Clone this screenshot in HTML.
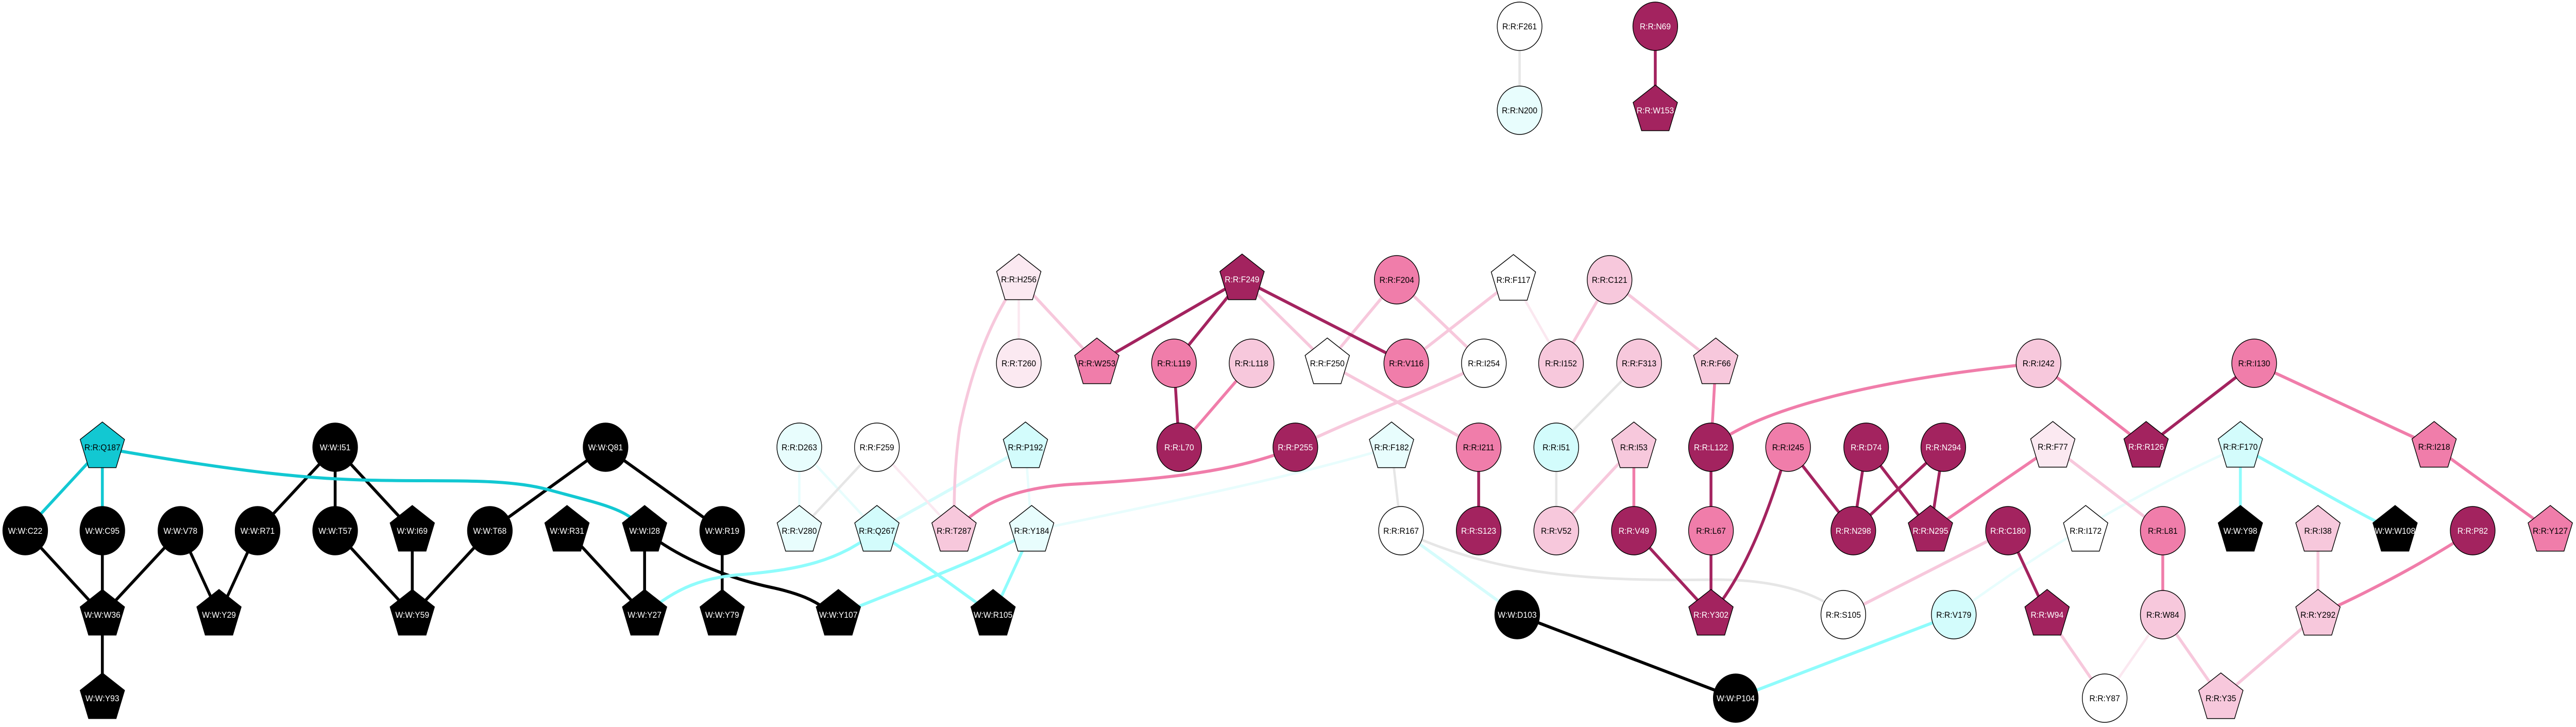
<!DOCTYPE html>
<html><head><meta charset="utf-8"><style>
html,body{margin:0;padding:0;background:#fff;width:100%;height:100%;overflow:hidden;}
svg{display:block;width:100vw;height:100vh;}
text{font-family:"Liberation Sans",Arial,sans-serif;font-size:17px;text-anchor:middle;}
.w{fill:#fff}.b{fill:#000}
</style></head><body>
<svg viewBox="0 0 5411 1411" preserveAspectRatio="none" xmlns="http://www.w3.org/2000/svg">
<g fill="none" stroke-width="6" stroke-linecap="butt">
<g stroke="#000">
<line x1="53" y1="1030" x2="215" y2="1193"/>
<line x1="215" y1="1030" x2="215" y2="1193"/>
<line x1="379" y1="1030" x2="215" y2="1193"/>
<line x1="379" y1="1030" x2="460" y2="1193"/>
<line x1="541" y1="1030" x2="460" y2="1193"/>
<line x1="704" y1="868" x2="541" y2="1030"/>
<line x1="704" y1="868" x2="704" y2="1030"/>
<line x1="704" y1="868" x2="866" y2="1030"/>
<line x1="704" y1="1030" x2="866" y2="1193"/>
<line x1="866" y1="1030" x2="866" y2="1193"/>
<line x1="1029" y1="1030" x2="866" y2="1193"/>
<line x1="1272" y1="868" x2="1029" y2="1030"/>
<line x1="1272" y1="868" x2="1517" y2="1030"/>
<line x1="1191" y1="1030" x2="1354" y2="1193"/>
<line x1="1354" y1="1030" x2="1354" y2="1193"/>
<line x1="215" y1="1193" x2="215" y2="1355"/>
<line x1="1517" y1="1030" x2="1517" y2="1193"/>
<path d="M1354,1030 C1420,1080 1520,1120 1620,1140 S1720,1180 1761,1193"/>
<line x1="3187" y1="1193" x2="3646" y2="1355"/>
</g>
<g stroke="#12c8d2">
<line x1="215" y1="868" x2="53" y2="1030"/>
<line x1="215" y1="868" x2="215" y2="1030"/>
<path d="M250,875 C500,915 650,930 780,932 C950,935 1060,928 1150,950 C1250,975 1300,985 1330,1008"/>
</g>
<g stroke="#8ffcfc">
<path d="M1354,1193 C1420,1140 1480,1120 1560,1115 C1680,1105 1760,1090 1842,1030"/>
<path d="M1761,1193 C1900,1140 2080,1080 2167,1030"/>
<line x1="1842" y1="1030" x2="2086" y2="1193"/>
<line x1="2167" y1="1030" x2="2086" y2="1193"/>
<line x1="3646" y1="1355" x2="4104" y2="1193"/>
<line x1="4706" y1="867" x2="4706" y2="1030"/>
<path d="M4706,867 C4850,940 4960,1000 5031,1030"/>
</g>
<g stroke="#d5fcfc">
<line x1="2154" y1="868" x2="1842" y2="1030"/>
<line x1="2943" y1="1030" x2="3187" y2="1193"/>
</g>
<g stroke="#e8fdfd" stroke-width="5">
<line x1="1679" y1="868" x2="1679" y2="1030"/>
<line x1="1679" y1="868" x2="1842" y2="1030"/>
<line x1="2154" y1="868" x2="2167" y2="1030"/>
<path d="M2167,1030 C2400,985 2700,930 2923,868"/>
<path d="M4104,1193 C4300,1060 4500,950 4706,867"/>
</g>
<g stroke="#e6e6e6" stroke-width="5">
<line x1="1842" y1="868" x2="1679" y2="1030"/>
<line x1="3192" y1="51" x2="3192" y2="214"/>
<line x1="2923" y1="868" x2="2943" y2="1030"/>
<line x1="3443" y1="705" x2="3269" y2="868"/>
<line x1="3269" y1="868" x2="3269" y2="1030"/>
<path d="M2943,1030 C3150,1120 3350,1128 3600,1125 C3750,1124 3830,1160 3872,1193"/>
</g>
<g stroke="#fbe8f0" stroke-width="5">
<line x1="1842" y1="868" x2="2004" y2="1030"/>
<line x1="2140" y1="542" x2="2140" y2="705"/>
<line x1="3179" y1="543" x2="3279" y2="705"/>
<line x1="4543" y1="1193" x2="4421" y2="1355"/>
</g>
<g stroke="#f7c8dc">
<path d="M2140,542 C2080,620 2040,720 2016,830 C2005,900 2004,960 2004,1030"/>
<line x1="2140" y1="542" x2="2304" y2="705"/>
<line x1="2609" y1="542" x2="2788" y2="705"/>
<line x1="2934" y1="543" x2="2788" y2="705"/>
<line x1="2934" y1="543" x2="3117" y2="705"/>
<line x1="3179" y1="543" x2="2954" y2="705"/>
<line x1="3381" y1="543" x2="3279" y2="705"/>
<line x1="3381" y1="543" x2="3604" y2="705"/>
<line x1="2788" y1="705" x2="3106" y2="868"/>
<path d="M3117,705 C3000,760 2850,810 2721,868"/>
<line x1="3432" y1="868" x2="3269" y2="1030"/>
<line x1="3872" y1="1193" x2="4218" y2="1030"/>
<line x1="4312" y1="867" x2="4543" y2="1030"/>
<line x1="4300" y1="1193" x2="4421" y2="1355"/>
<line x1="4543" y1="1193" x2="4665" y2="1355"/>
<line x1="4869" y1="1030" x2="4869" y2="1193"/>
<line x1="4869" y1="1193" x2="4665" y2="1355"/>
</g>
<g stroke="#f07daa">
<line x1="2629" y1="705" x2="2477" y2="868"/>
<path d="M2721,868 C2600,915 2450,930 2250,940 C2120,948 2060,980 2004,1030"/>
<line x1="3432" y1="868" x2="3432" y2="1030"/>
<line x1="3604" y1="705" x2="3594" y2="868"/>
<path d="M3594,868 C3700,790 3950,735 4282,705"/>
<line x1="4055" y1="1030" x2="4312" y2="867"/>
<line x1="4282" y1="705" x2="4508" y2="867"/>
<line x1="4735" y1="705" x2="5113" y2="867"/>
<line x1="5113" y1="867" x2="5357" y2="1030"/>
<line x1="4543" y1="1030" x2="4543" y2="1193"/>
<path d="M5194,1030 C5080,1100 4950,1160 4869,1193"/>
</g>
<g stroke="#a3235f">
<line x1="2609" y1="542" x2="2304" y2="705"/>
<line x1="2609" y1="542" x2="2466" y2="705"/>
<line x1="2609" y1="542" x2="2954" y2="705"/>
<line x1="2466" y1="705" x2="2477" y2="868"/>
<line x1="3477" y1="51" x2="3477" y2="214"/>
<line x1="3106" y1="868" x2="3106" y2="1030"/>
<line x1="3594" y1="868" x2="3594" y2="1030"/>
<line x1="3594" y1="1030" x2="3594" y2="1193"/>
<line x1="3432" y1="1030" x2="3594" y2="1193"/>
<path d="M3756,868 C3720,980 3670,1110 3594,1193"/>
<line x1="3756" y1="868" x2="3893" y2="1030"/>
<line x1="3920" y1="868" x2="3893" y2="1030"/>
<line x1="3920" y1="868" x2="4055" y2="1030"/>
<line x1="4082" y1="868" x2="3893" y2="1030"/>
<line x1="4082" y1="868" x2="4055" y2="1030"/>
<line x1="4735" y1="705" x2="4508" y2="867"/>
<line x1="4218" y1="1030" x2="4300" y2="1193"/>
</g>
</g>

<g stroke="#000" stroke-width="1.5">
<g class="b">
<circle cx="53" cy="1030" r="47"/><circle cx="215" cy="1030" r="47"/><circle cx="379" cy="1030" r="47"/>
<circle cx="541" cy="1030" r="47"/><circle cx="704" cy="1030" r="47"/><circle cx="1029" cy="1030" r="47"/>
<circle cx="704" cy="868" r="47"/><circle cx="1272" cy="868" r="47"/><circle cx="1517" cy="1030" r="47"/>
<circle cx="3187" cy="1193" r="47"/><circle cx="3646" cy="1355" r="47"/>
<polygon transform="translate(866,1030)" points="0,-49 46.6,-15.1 28.8,39.6 -28.8,39.6 -46.6,-15.1"/>
<polygon transform="translate(1191,1030)" points="0,-49 46.6,-15.1 28.8,39.6 -28.8,39.6 -46.6,-15.1"/>
<polygon transform="translate(1354,1030)" points="0,-49 46.6,-15.1 28.8,39.6 -28.8,39.6 -46.6,-15.1"/>
<polygon transform="translate(215,1193)" points="0,-49 46.6,-15.1 28.8,39.6 -28.8,39.6 -46.6,-15.1"/>
<polygon transform="translate(460,1193)" points="0,-49 46.6,-15.1 28.8,39.6 -28.8,39.6 -46.6,-15.1"/>
<polygon transform="translate(866,1193)" points="0,-49 46.6,-15.1 28.8,39.6 -28.8,39.6 -46.6,-15.1"/>
<polygon transform="translate(1354,1193)" points="0,-49 46.6,-15.1 28.8,39.6 -28.8,39.6 -46.6,-15.1"/>
<polygon transform="translate(215,1355)" points="0,-49 46.6,-15.1 28.8,39.6 -28.8,39.6 -46.6,-15.1"/>
<polygon transform="translate(1517,1193)" points="0,-49 46.6,-15.1 28.8,39.6 -28.8,39.6 -46.6,-15.1"/>
<polygon transform="translate(1761,1193)" points="0,-49 46.6,-15.1 28.8,39.6 -28.8,39.6 -46.6,-15.1"/>
<polygon transform="translate(2086,1193)" points="0,-49 46.6,-15.1 28.8,39.6 -28.8,39.6 -46.6,-15.1"/>
<polygon transform="translate(4706,1030)" points="0,-49 46.6,-15.1 28.8,39.6 -28.8,39.6 -46.6,-15.1"/>
<polygon transform="translate(5031,1030)" points="0,-49 46.6,-15.1 28.8,39.6 -28.8,39.6 -46.6,-15.1"/>
</g>
<polygon fill="#12c8d2" transform="translate(215,868)" points="0,-49 46.6,-15.1 28.8,39.6 -28.8,39.6 -46.6,-15.1"/>
<g fill="#a3235f">
<polygon transform="translate(2609,542)" points="0,-49 46.6,-15.1 28.8,39.6 -28.8,39.6 -46.6,-15.1"/>
<circle cx="2477" cy="868" r="47"/><circle cx="2721" cy="868" r="47"/><circle cx="3477" cy="51" r="47"/>
<polygon transform="translate(3477,214)" points="0,-49 46.6,-15.1 28.8,39.6 -28.8,39.6 -46.6,-15.1"/>
<circle cx="3594" cy="868" r="47"/><circle cx="3920" cy="868" r="47"/><circle cx="4082" cy="868" r="47"/>
<circle cx="3106" cy="1030" r="47"/><circle cx="3432" cy="1030" r="47"/><circle cx="3893" cy="1030" r="47"/>
<polygon transform="translate(4055,1030)" points="0,-49 46.6,-15.1 28.8,39.6 -28.8,39.6 -46.6,-15.1"/>
<polygon transform="translate(3594,1193)" points="0,-49 46.6,-15.1 28.8,39.6 -28.8,39.6 -46.6,-15.1"/>
<polygon transform="translate(4508,867)" points="0,-49 46.6,-15.1 28.8,39.6 -28.8,39.6 -46.6,-15.1"/>
<circle cx="4218" cy="1030" r="47"/><circle cx="5194" cy="1030" r="47"/>
<polygon transform="translate(4300,1193)" points="0,-49 46.6,-15.1 28.8,39.6 -28.8,39.6 -46.6,-15.1"/>
</g>
<g fill="#f07daa">
<polygon transform="translate(2304,705)" points="0,-49 46.6,-15.1 28.8,39.6 -28.8,39.6 -46.6,-15.1"/>
<circle cx="2466" cy="705" r="47"/><circle cx="2934" cy="543" r="47"/><circle cx="2954" cy="705" r="47"/>
<circle cx="3106" cy="868" r="47"/><circle cx="3756" cy="868" r="47"/><circle cx="3594" cy="1030" r="47"/>
<circle cx="4735" cy="705" r="47"/><circle cx="4543" cy="1030" r="47"/>
<polygon transform="translate(5113,867)" points="0,-49 46.6,-15.1 28.8,39.6 -28.8,39.6 -46.6,-15.1"/>
<polygon transform="translate(5357,1030)" points="0,-49 46.6,-15.1 28.8,39.6 -28.8,39.6 -46.6,-15.1"/>
</g>
<g fill="#f7c8dc">
<polygon transform="translate(2004,1030)" points="0,-49 46.6,-15.1 28.8,39.6 -28.8,39.6 -46.6,-15.1"/>
<circle cx="2629" cy="705" r="47"/><circle cx="3381" cy="543" r="47"/><circle cx="3279" cy="705" r="47"/>
<circle cx="3443" cy="705" r="47"/><circle cx="3269" cy="1030" r="47"/><circle cx="4282" cy="705" r="47"/>
<circle cx="4543" cy="1193" r="47"/>
<polygon transform="translate(3604,705)" points="0,-49 46.6,-15.1 28.8,39.6 -28.8,39.6 -46.6,-15.1"/>
<polygon transform="translate(3432,868)" points="0,-49 46.6,-15.1 28.8,39.6 -28.8,39.6 -46.6,-15.1"/>
<polygon transform="translate(4869,1030)" points="0,-49 46.6,-15.1 28.8,39.6 -28.8,39.6 -46.6,-15.1"/>
<polygon transform="translate(4869,1193)" points="0,-49 46.6,-15.1 28.8,39.6 -28.8,39.6 -46.6,-15.1"/>
<polygon transform="translate(4665,1355)" points="0,-49 46.6,-15.1 28.8,39.6 -28.8,39.6 -46.6,-15.1"/>
</g>
<g fill="#fbe9f1">
<polygon transform="translate(2140,542)" points="0,-49 46.6,-15.1 28.8,39.6 -28.8,39.6 -46.6,-15.1"/>
<circle cx="2140" cy="705" r="47"/>
<polygon transform="translate(4312,867)" points="0,-49 46.6,-15.1 28.8,39.6 -28.8,39.6 -46.6,-15.1"/>
</g>
<g fill="#d3fcfc">
<polygon transform="translate(2154,868)" points="0,-49 46.6,-15.1 28.8,39.6 -28.8,39.6 -46.6,-15.1"/>
<polygon transform="translate(1842,1030)" points="0,-49 46.6,-15.1 28.8,39.6 -28.8,39.6 -46.6,-15.1"/>
<polygon transform="translate(4706,867)" points="0,-49 46.6,-15.1 28.8,39.6 -28.8,39.6 -46.6,-15.1"/>
<circle cx="3269" cy="868" r="47"/><circle cx="4104" cy="1193" r="47"/>
</g>
<g fill="#e8fdfd">
<circle cx="1679" cy="868" r="47"/><circle cx="3192" cy="214" r="47"/>
<polygon transform="translate(1679,1030)" points="0,-49 46.6,-15.1 28.8,39.6 -28.8,39.6 -46.6,-15.1"/>
<polygon transform="translate(2167,1030)" points="0,-49 46.6,-15.1 28.8,39.6 -28.8,39.6 -46.6,-15.1"/>
<polygon transform="translate(2923,868)" points="0,-49 46.6,-15.1 28.8,39.6 -28.8,39.6 -46.6,-15.1"/>
</g>
<g fill="#fff">
<circle cx="1842" cy="868" r="47"/><circle cx="3192" cy="51" r="47"/><circle cx="3117" cy="705" r="47"/>
<circle cx="2943" cy="1030" r="47"/><circle cx="3872" cy="1193" r="47"/><circle cx="4421" cy="1355" r="47"/>
<polygon transform="translate(2788,705)" points="0,-49 46.6,-15.1 28.8,39.6 -28.8,39.6 -46.6,-15.1"/>
<polygon transform="translate(3179,543)" points="0,-49 46.6,-15.1 28.8,39.6 -28.8,39.6 -46.6,-15.1"/>
<polygon transform="translate(4381,1030)" points="0,-49 46.6,-15.1 28.8,39.6 -28.8,39.6 -46.6,-15.1"/>
</g>
</g>

<g class="w">
<text x="53" y="1036">W:W:C22</text><text x="215" y="1036">W:W:C95</text><text x="379" y="1036">W:W:V78</text>
<text x="541" y="1036">W:W:R71</text><text x="704" y="1036">W:W:T57</text><text x="866" y="1036">W:W:I69</text>
<text x="1029" y="1036">W:W:T68</text><text x="1191" y="1036">W:W:R31</text><text x="1354" y="1036">W:W:I28</text>
<text x="704" y="874">W:W:I51</text><text x="1272" y="874">W:W:Q81</text><text x="1517" y="1036">W:W:R19</text>
<text x="215" y="1199">W:W:W36</text><text x="460" y="1199">W:W:Y29</text><text x="866" y="1199">W:W:Y59</text>
<text x="1354" y="1199">W:W:Y27</text><text x="215" y="1361">W:W:Y93</text><text x="1517" y="1199">W:W:Y79</text>
<text x="1761" y="1199">W:W:Y107</text><text x="2086" y="1199">W:W:R105</text>
<text x="3187" y="1199">W:W:D103</text><text x="3646" y="1361">W:W:P104</text>
<text x="4706" y="1036">W:W:Y98</text><text x="5031" y="1036">W:W:W108</text>
<text x="2609" y="548">R:R:F249</text><text x="2477" y="874">R:R:L70</text><text x="2721" y="874">R:R:P255</text>
<text x="3477" y="57">R:R:N69</text><text x="3477" y="220">R:R:W153</text>
<text x="3594" y="874">R:R:L122</text><text x="3920" y="874">R:R:D74</text><text x="4082" y="874">R:R:N294</text>
<text x="3106" y="1036">R:R:S123</text><text x="3432" y="1036">R:R:V49</text><text x="3893" y="1036">R:R:N298</text>
<text x="4055" y="1036">R:R:N295</text><text x="3594" y="1199">R:R:Y302</text>
<text x="4508" y="873">R:R:R126</text><text x="4218" y="1036">R:R:C180</text><text x="5194" y="1036">R:R:P82</text>
<text x="4300" y="1199">R:R:W94</text>
</g>
<g class="b">
<text x="215" y="874">R:R:Q187</text>
<text x="1679" y="874">R:R:D263</text><text x="1842" y="874">R:R:F259</text><text x="2154" y="874">R:R:P192</text>
<text x="1679" y="1036">R:R:V280</text><text x="1842" y="1036">R:R:Q267</text><text x="2004" y="1036">R:R:T287</text>
<text x="2167" y="1036">R:R:Y184</text>
<text x="2140" y="548">R:R:H256</text><text x="2140" y="711">R:R:T260</text><text x="2304" y="711">R:R:W253</text>
<text x="2466" y="711">R:R:L119</text><text x="2629" y="711">R:R:L118</text><text x="2788" y="711">R:R:F250</text>
<text x="3192" y="57">R:R:F261</text><text x="3192" y="220">R:R:N200</text>
<text x="2934" y="549">R:R:F204</text><text x="3179" y="549">R:R:F117</text><text x="3381" y="549">R:R:C121</text>
<text x="2954" y="711">R:R:V116</text><text x="3117" y="711">R:R:I254</text><text x="3279" y="711">R:R:I152</text>
<text x="3443" y="711">R:R:F313</text><text x="3604" y="711">R:R:F66</text>
<text x="2923" y="874">R:R:F182</text><text x="3106" y="874">R:R:I211</text><text x="3269" y="874">R:R:I51</text>
<text x="3432" y="874">R:R:I53</text><text x="3756" y="874">R:R:I245</text>
<text x="2943" y="1036">R:R:R167</text><text x="3269" y="1036">R:R:V52</text><text x="3594" y="1036">R:R:L67</text>
<text x="3872" y="1199">R:R:S105</text><text x="4104" y="1199">R:R:V179</text>
<text x="4282" y="711">R:R:I242</text><text x="4735" y="711">R:R:I130</text>
<text x="4312" y="873">R:R:F77</text><text x="4706" y="873">R:R:F170</text><text x="5113" y="873">R:R:I218</text>
<text x="4381" y="1036">R:R:I172</text><text x="4543" y="1036">R:R:L81</text><text x="4869" y="1036">R:R:I38</text>
<text x="5357" y="1036">R:R:Y127</text>
<text x="4543" y="1199">R:R:W84</text><text x="4869" y="1199">R:R:Y292</text>
<text x="4421" y="1361">R:R:Y87</text><text x="4665" y="1361">R:R:Y35</text>
</g>
</svg>
</body></html>
